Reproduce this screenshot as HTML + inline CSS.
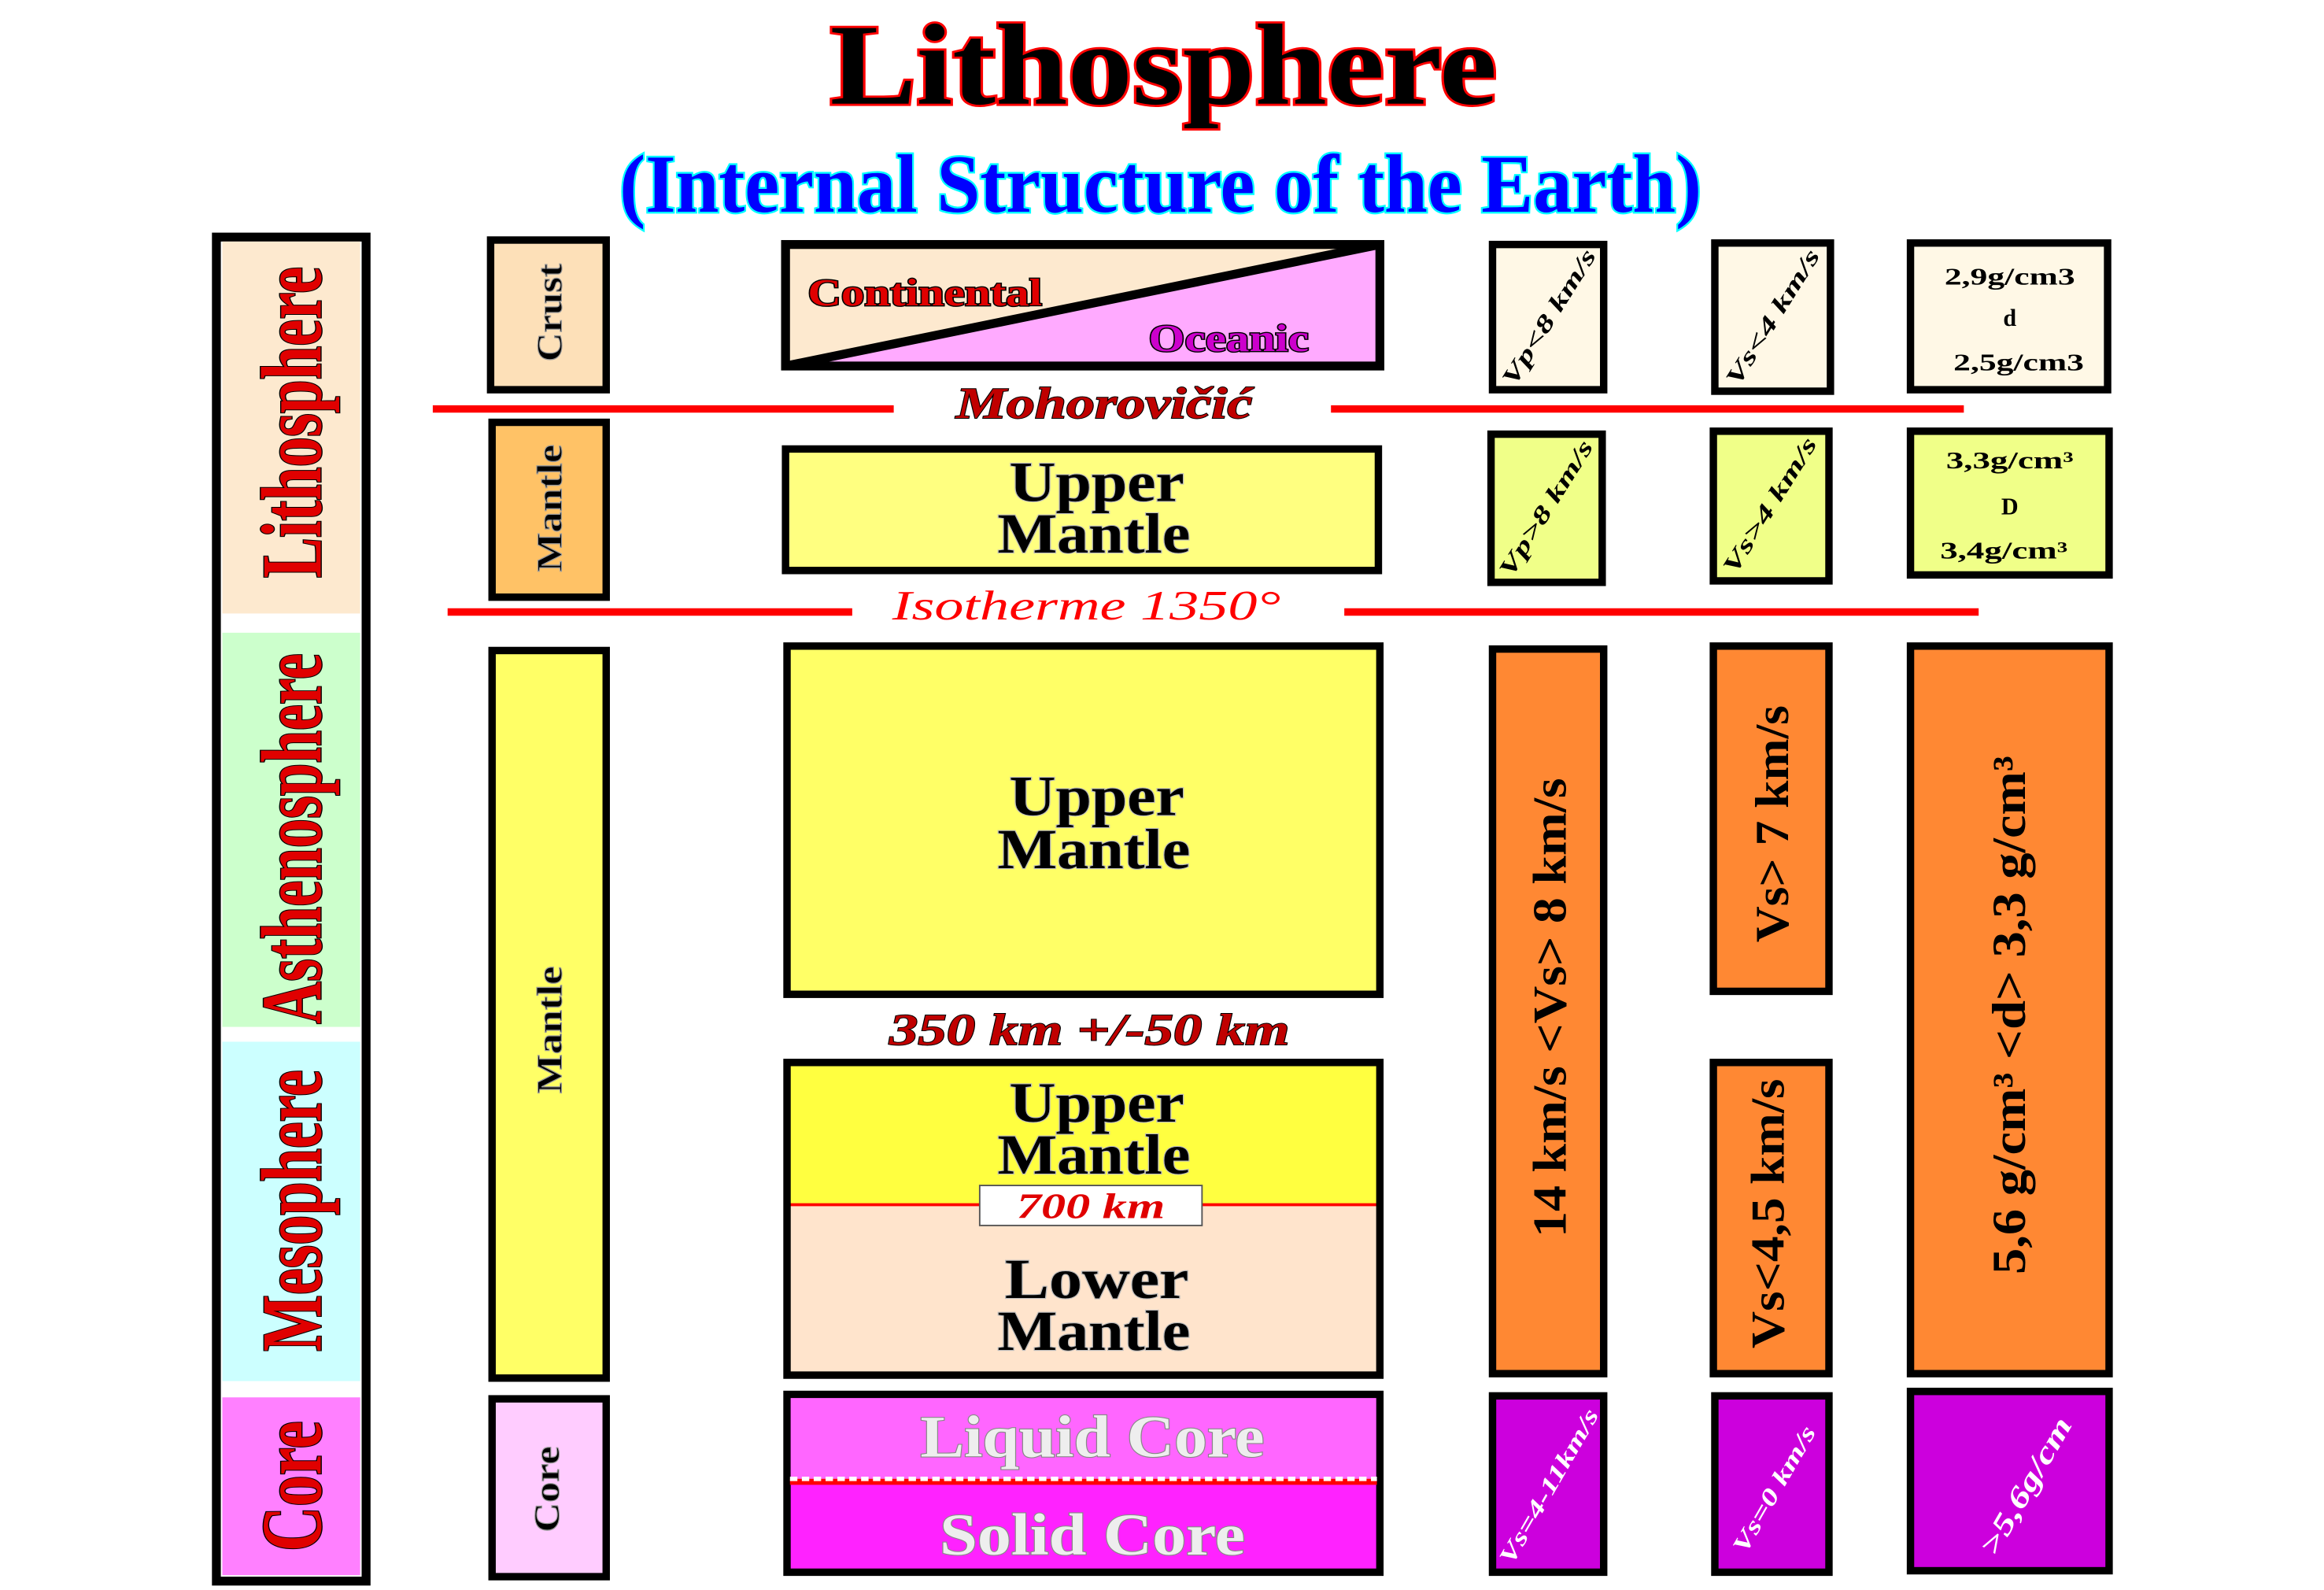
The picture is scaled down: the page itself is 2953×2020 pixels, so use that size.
<!DOCTYPE html>
<html><head><meta charset="utf-8"><style>
html,body{margin:0;padding:0;background:#fff;}
svg{display:block;}
text{font-family:"Liberation Serif",serif;font-weight:bold;}
</style></head><body>
<svg width="2953" height="2020" viewBox="0 0 1568 1073" preserveAspectRatio="none" xmlns="http://www.w3.org/2000/svg">
<!-- Titles -->
<text x="785" y="70" text-anchor="middle" font-size="78" textLength="450" lengthAdjust="spacingAndGlyphs" fill="#000" stroke="#f00" stroke-width="3" paint-order="stroke">Lithosphere</text>
<text x="783" y="143" text-anchor="middle" font-size="56" textLength="730" lengthAdjust="spacingAndGlyphs" fill="#00f" stroke="#0ff" stroke-width="2.5" paint-order="stroke">(Internal Structure of the Earth)</text>

<!-- Left column -->
<rect x="146" y="160" width="101" height="907" fill="#fff" stroke="#000" stroke-width="6"/>
<rect x="150" y="163" width="93" height="251" fill="#fde9cf"/>
<rect x="150" y="427" width="93" height="266" fill="#ccffcc"/>
<rect x="150" y="703" width="93" height="229" fill="#ccffff"/>
<rect x="150" y="943" width="93" height="120" fill="#ff80ff"/>
<g fill="#e00000" stroke="#000" stroke-width="1.5" paint-order="stroke" font-size="58">
<text transform="translate(197,285) rotate(-90)" text-anchor="middle" dominant-baseline="central" textLength="210" lengthAdjust="spacingAndGlyphs">Lithosphere</text>
<text transform="translate(197,566) rotate(-90)" text-anchor="middle" dominant-baseline="central" textLength="250" lengthAdjust="spacingAndGlyphs">Asthenosphere</text>
<text transform="translate(197,817) rotate(-90)" text-anchor="middle" dominant-baseline="central" textLength="190" lengthAdjust="spacingAndGlyphs">Mesophere</text>
<text transform="translate(197,1003) rotate(-90)" text-anchor="middle" dominant-baseline="central" textLength="88" lengthAdjust="spacingAndGlyphs">Core</text>
</g>

<!-- Column 2 -->
<g stroke="#000" stroke-width="5">
<rect x="331" y="162" width="78" height="101" fill="#fde0b8"/>
<rect x="332" y="285" width="77" height="118" fill="#ffc266"/>
<rect x="332" y="439" width="77" height="491" fill="#ffff66"/>
<rect x="332" y="944" width="77" height="120" fill="#ffccff"/>
</g>
<g fill="#000" stroke="#999" stroke-width="0.6" font-size="24">
<text transform="translate(371,211) rotate(-90)" text-anchor="middle" dominant-baseline="central" textLength="66" lengthAdjust="spacingAndGlyphs">Crust</text>
<text transform="translate(371,343) rotate(-90)" text-anchor="middle" dominant-baseline="central" textLength="86" lengthAdjust="spacingAndGlyphs">Mantle</text>
<text transform="translate(371,695) rotate(-90)" text-anchor="middle" dominant-baseline="central" textLength="86" lengthAdjust="spacingAndGlyphs">Mantle</text>
<text transform="translate(369,1005) rotate(-90)" text-anchor="middle" dominant-baseline="central" textLength="58" lengthAdjust="spacingAndGlyphs">Core</text>
</g>

<!-- Column 3 -->
<rect x="530" y="165" width="401" height="82" fill="#fde9cf"/>
<polygon points="530,247 931,165 931,247" fill="#ffaaff"/>
<line x1="530" y1="247" x2="931" y2="165" stroke="#000" stroke-width="6"/>
<rect x="530" y="165" width="401" height="82" fill="none" stroke="#000" stroke-width="6"/>
<text x="545" y="206" font-size="26" textLength="158" lengthAdjust="spacingAndGlyphs" fill="#e00000" stroke="#000" stroke-width="1.5" paint-order="stroke">Continental</text>
<text x="775" y="237" font-size="26" textLength="108" lengthAdjust="spacingAndGlyphs" fill="#cc00cc" stroke="#000" stroke-width="1.5" paint-order="stroke">Oceanic</text>

<rect x="530" y="303" width="400" height="82" fill="#ffff80" stroke="#000" stroke-width="5"/>
<rect x="531" y="436" width="400" height="235" fill="#ffff66" stroke="#000" stroke-width="5"/>
<rect x="531" y="717" width="400" height="96" fill="#ffff40"/>
<rect x="531" y="813" width="400" height="115" fill="#ffe4cc"/>
<line x1="531" y1="813" x2="931" y2="813" stroke="#f00" stroke-width="2"/>
<rect x="531" y="717" width="400" height="211" fill="none" stroke="#000" stroke-width="5"/>
<rect x="661" y="800" width="150" height="27" fill="#fff" stroke="#555" stroke-width="1"/>
<text x="736" y="822" text-anchor="middle" font-size="24" font-style="italic" fill="#e00000" textLength="100" lengthAdjust="spacingAndGlyphs">700 km</text>

<rect x="531" y="941" width="400" height="120" fill="#ff22ff" stroke="#000" stroke-width="5"/>
<rect x="533.5" y="943.5" width="395" height="56" fill="#ff66ff"/>
<line x1="533" y1="1000" x2="929" y2="1000" stroke="#f00" stroke-width="4"/>
<line x1="533" y1="998" x2="929" y2="998" stroke="#fff" stroke-width="3" stroke-dasharray="5,3"/>

<g fill="#000" stroke="#bbb" stroke-width="1.2" paint-order="stroke" font-size="38" text-anchor="middle">
<text x="740" y="338" textLength="118" lengthAdjust="spacingAndGlyphs">Upper</text>
<text x="738" y="373" textLength="130" lengthAdjust="spacingAndGlyphs">Mantle</text>
<text x="740" y="550" textLength="118" lengthAdjust="spacingAndGlyphs">Upper</text>
<text x="738" y="586" textLength="130" lengthAdjust="spacingAndGlyphs">Mantle</text>
<text x="740" y="757" textLength="118" lengthAdjust="spacingAndGlyphs">Upper</text>
<text x="738" y="792" textLength="130" lengthAdjust="spacingAndGlyphs">Mantle</text>
<text x="740" y="876" textLength="124" lengthAdjust="spacingAndGlyphs">Lower</text>
<text x="738" y="911" textLength="130" lengthAdjust="spacingAndGlyphs">Mantle</text>
</g>
<g fill="#eee" stroke="#888" stroke-width="1.2" paint-order="stroke" font-size="40" text-anchor="middle">
<text x="737" y="983" textLength="232" lengthAdjust="spacingAndGlyphs">Liquid Core</text>
<text x="737" y="1049" textLength="206" lengthAdjust="spacingAndGlyphs">Solid Core</text>
</g>

<!-- Red boundary lines -->
<g stroke="#f00" stroke-width="5">
<line x1="292" y1="276" x2="603" y2="276"/>
<line x1="898" y1="276" x2="1325" y2="276"/>
<line x1="302" y1="413" x2="575" y2="413"/>
<line x1="907" y1="413" x2="1335" y2="413"/>
</g>
<text x="745" y="282" text-anchor="middle" font-size="30" font-style="italic" fill="#c00000" stroke="#000" stroke-width="1" paint-order="stroke" textLength="200" lengthAdjust="spacingAndGlyphs">Mohorovičić</text>
<text x="733" y="418" text-anchor="middle" font-size="28" font-style="italic" fill="#f00" textLength="262" lengthAdjust="spacingAndGlyphs" style="font-weight:normal">Isotherme 1350°</text>
<text x="735" y="705" text-anchor="middle" font-size="30" font-style="italic" fill="#c00000" stroke="#000" stroke-width="1" paint-order="stroke" textLength="270" lengthAdjust="spacingAndGlyphs">350 km +/-50 km</text>

<!-- Column 4 -->
<g stroke="#000" stroke-width="5">
<rect x="1007" y="165" width="75" height="98" fill="#fff8e6"/>
<rect x="1006" y="293" width="75" height="100" fill="#f0ff88"/>
<rect x="1007" y="438" width="75" height="489" fill="#ff8833"/>
<rect x="1007" y="942" width="75" height="119" fill="#cc00dd"/>
<!-- Column 5 -->
<rect x="1157" y="164" width="78" height="100" fill="#fff8e6"/>
<rect x="1156" y="291" width="78" height="101" fill="#f0ff88"/>
<rect x="1156" y="436" width="78" height="233" fill="#ff8833"/>
<rect x="1156" y="717" width="78" height="210" fill="#ff8833"/>
<rect x="1157" y="942" width="77" height="119" fill="#cc00dd"/>
<!-- Column 6 -->
<rect x="1289" y="164" width="133" height="99" fill="#fff8e6"/>
<rect x="1289" y="291" width="134" height="97" fill="#f0ff88"/>
<rect x="1289" y="436" width="134" height="491" fill="#ff8833"/>
<rect x="1289" y="939" width="134" height="121" fill="#cc00dd"/>
</g>

<g fill="#000" font-size="16" font-style="italic">
<text transform="translate(1045,214) rotate(-58)" text-anchor="middle" dominant-baseline="central" textLength="105" lengthAdjust="spacingAndGlyphs">Vp&lt;8 km/s</text>
<text transform="translate(1196,214) rotate(-58)" text-anchor="middle" dominant-baseline="central" textLength="105" lengthAdjust="spacingAndGlyphs">Vs&lt;4 km/s</text>
<text transform="translate(1043,343) rotate(-58)" text-anchor="middle" dominant-baseline="central" textLength="105" lengthAdjust="spacingAndGlyphs">Vp&gt;8 km/s</text>
<text transform="translate(1194,341) rotate(-58)" text-anchor="middle" dominant-baseline="central" textLength="105" lengthAdjust="spacingAndGlyphs">Vs&gt;4 km/s</text>
</g>
<g fill="#fff" font-size="16" font-style="italic">
<text transform="translate(1045,1003) rotate(-60)" text-anchor="middle" dominant-baseline="central" textLength="118" lengthAdjust="spacingAndGlyphs">Vs=4-11km/s</text>
<text transform="translate(1197,1005) rotate(-60)" text-anchor="middle" dominant-baseline="central" textLength="96" lengthAdjust="spacingAndGlyphs">Vs=0 km/s</text>
<text transform="translate(1367,1003) rotate(-60)" text-anchor="middle" dominant-baseline="central" font-size="20" textLength="104" lengthAdjust="spacingAndGlyphs">&gt;5,6g/cm</text>
</g>
<g fill="#000" font-size="16" text-anchor="middle">
<text x="1356" y="192" textLength="88" lengthAdjust="spacingAndGlyphs">2,9g/cm3</text>
<text x="1356" y="220">d</text>
<text x="1362" y="250" textLength="88" lengthAdjust="spacingAndGlyphs">2,5g/cm3</text>
<text x="1356" y="316" textLength="86" lengthAdjust="spacingAndGlyphs">3,3g/cm³</text>
<text x="1356" y="347">D</text>
<text x="1352" y="377" textLength="86" lengthAdjust="spacingAndGlyphs">3,4g/cm³</text>
</g>
<g fill="#000" font-size="32">
<text transform="translate(1046,680) rotate(-90)" text-anchor="middle" dominant-baseline="central" textLength="310" lengthAdjust="spacingAndGlyphs">14 km/s &lt;Vs&gt; 8 km/s</text>
<text transform="translate(1196,556) rotate(-90)" text-anchor="middle" dominant-baseline="central" textLength="160" lengthAdjust="spacingAndGlyphs">Vs&gt; 7 km/s</text>
<text transform="translate(1193,819) rotate(-90)" text-anchor="middle" dominant-baseline="central" textLength="182" lengthAdjust="spacingAndGlyphs">Vs&lt;4,5 km/s</text>
<text transform="translate(1356,685) rotate(-90)" text-anchor="middle" dominant-baseline="central" textLength="350" lengthAdjust="spacingAndGlyphs">5,6 g/cm³ &lt;d&gt; 3,3 g/cm³</text>
</g>
</svg>
</body></html>
